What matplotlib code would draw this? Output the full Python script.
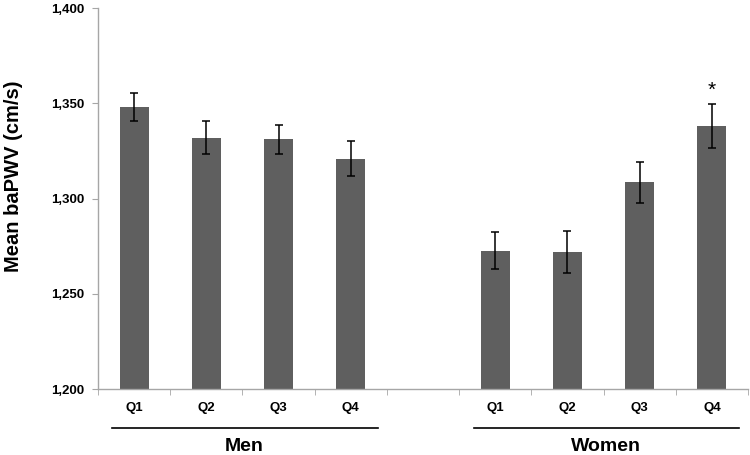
import numpy as np
import matplotlib
matplotlib.use("Agg")
import matplotlib.pyplot as plt
from matplotlib.ticker import FuncFormatter, MultipleLocator

plt.rcParams['font.family'] = ['Liberation Sans', 'DejaVu Sans']

groups = ['Men', 'Women']
quartiles = ['Q1', 'Q2', 'Q3', 'Q4']
men_mean = [1348, 1332, 1331, 1321]
men_err = [7.5, 8.8, 7.7, 9.0]
women_mean = [1272.5, 1272, 1308.5, 1338]
women_err = [9.7, 11.2, 10.7, 11.5]
star_y = 1357

# 9 slots: men Q1-Q4, empty gap, women Q1-Q4
x_men = np.arange(4)
x_women = np.arange(5, 9)
bar_col = '#5f5f5f'
axis_col = '#a6a6a6'

fig = plt.figure(figsize=(7.5, 4.55), dpi=100)
ax = fig.add_axes([0.1307, 0.145, 0.8667, 0.8374])

for xs, m, e in [(x_men, men_mean, men_err), (x_women, women_mean, women_err)]:
    ax.bar(xs, m, width=0.4, color=bar_col, zorder=2)
    ax.errorbar(xs, m, yerr=e, fmt='none', ecolor='black', elinewidth=1.1,
                capsize=3, capthick=1.1, zorder=3)

ax.text(x_women[-1], star_y, '*', ha='center', va='center', fontsize=15)

ax.set_ylim(1200, 1400)
ax.set_xlim(-0.5, 8.5)
ax.yaxis.set_major_locator(MultipleLocator(50))
ax.yaxis.set_major_formatter(FuncFormatter(lambda v, p: f'{int(v):,}'))

ax.set_xticks(list(x_men) + list(x_women))
ax.set_xticklabels(quartiles + quartiles)
ax.set_xticks(np.arange(-0.5, 9.0, 1.0), minor=True)
ax.tick_params(axis='x', which='major', length=0, pad=9)
ax.tick_params(axis='x', which='minor', length=4, color=axis_col, direction='out')
ax.tick_params(axis='y', length=4, color=axis_col, pad=6)
for lab in ax.get_xticklabels() + ax.get_yticklabels():
    lab.set_fontweight('bold')
    lab.set_fontsize(9.5)

for s in ['top', 'right']:
    ax.spines[s].set_visible(False)
for s in ['left', 'bottom']:
    ax.spines[s].set_color(axis_col)
    ax.spines[s].set_linewidth(1)

# y label sits a bit above the axes centre, like the original
fig.text(14 / 750, 1 - 176 / 455, 'Mean baPWV (cm/s)', rotation=90,
         ha='center', va='center', fontsize=14.5, fontweight='bold')

# group labels with lines under the quartile labels
trans = ax.get_xaxis_transform()
for name, xs in zip(groups, [x_men, x_women]):
    ax.plot([xs[0] - 0.3, xs[-1] + 0.38], [-0.102, -0.102], color='black',
            lw=1.2, transform=trans, clip_on=False)
    ax.text((xs[0] + xs[-1]) / 2 + 0.03, -0.152, name, transform=trans,
            ha='center', va='center', fontsize=14, fontweight='bold')

plt.savefig('out.png', dpi=100)
